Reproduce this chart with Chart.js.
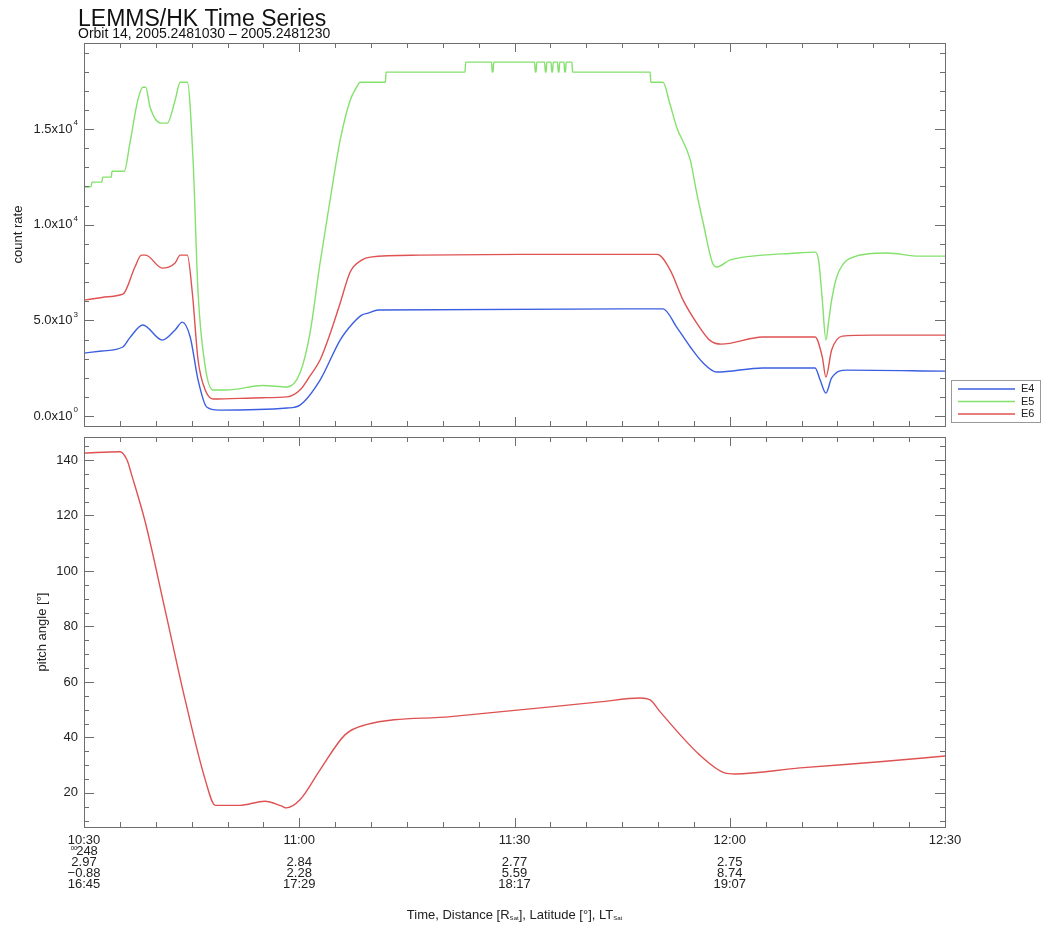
<!DOCTYPE html>
<html>
<head>
<meta charset="utf-8">
<title>LEMMS/HK Time Series</title>
<script src="https://cdn.jsdelivr.net/npm/chart.js@4.4.0/dist/chart.umd.min.js"></script>
<style>
  body { margin: 0; background: #fff; }
  #wrap { position: relative; width: 1042px; height: 927px; }
  canvas { position: absolute; left: 0; }
  #countChart { top: 0; }
  #pitchChart { top: 432px; }
</style>
</head>
<body>
<div id="wrap">
  <canvas id="countChart" width="1042" height="432"></canvas>
  <canvas id="pitchChart" width="1042" height="495"></canvas>
</div>
<script>
// minutes after 10:30
const e5Minutes = [0, 1.0, 1.1, 2.5, 2.6, 3.8, 3.9, 5.6, 6.4, 7.5, 8.2, 8.6, 9.2, 10.7, 11.6, 12.7, 13.4, 14.4, 15.2, 15.9,
  16.9, 18.0, 20.3, 24.9, 28.3, 30.1, 31.5, 32.9, 34.3, 35.7, 37.1, 38.0, 38.5, 42.0, 42.1, 53.1, 53.2,
  56.8, 56.9, 57.0, 57.1, 62.8, 62.9, 63.0, 63.1, 64.2, 64.3, 64.4, 64.5, 65.1, 65.2, 65.3, 65.4,
  66.0, 66.1, 66.2, 66.3, 66.9, 67.0, 67.1, 67.2, 68.0, 68.1, 78.9, 79.0, 80.7, 81.6, 82.6, 84.5, 85.4, 86.3,
  87.6, 88.2, 90.0, 94.6, 98.4, 101.9, 102.4, 102.9, 103.4, 103.8, 104.2, 104.9, 106.8, 111.9, 116.5, 120];
const e5Counts = [11970, 12000, 12230, 12230, 12490, 12490, 12800, 12800, 14270, 16510, 17190, 17190, 16150, 15310, 15310, 16510, 17450, 17450, 13380, 6430,
  2560, 1360, 1370, 1600, 1520, 2250, 4340, 8000, 11290, 14420, 16510, 17190, 17450, 17450, 17980, 17980, 18500,
  18500, 17980, 17980, 18500, 18500, 17980, 17980, 18500, 18500, 17980, 17980, 18500, 18500, 17980, 17980, 18500,
  18500, 17980, 17980, 18500, 18500, 17980, 17980, 18500, 18500, 17980, 17980, 17450, 17450, 16400, 15100, 13380, 11650, 10090,
  8000, 7790, 8150, 8410, 8500, 8570, 8100, 6060, 3970, 5000, 6060, 7260, 8260, 8520, 8360, 8360];

const e6Minutes = [0, 2.5, 5.0, 5.6, 7.1, 8.0, 8.6, 10.9, 12.7, 13.4, 14.4, 15.1, 15.9, 16.9, 18.0, 24.9, 28.3, 30.1, 31.5, 32.9,
  34.3, 35.7, 37.1, 38.7, 39.9, 46.8, 60.8, 79.9, 81.7, 83.5, 85.4, 87.2, 88.8, 94.6, 101.9, 102.9, 103.4, 104.2, 105.7, 110, 120];
const e6Counts = [6060, 6200, 6330, 6430, 7790, 8410, 8410, 7730, 8000, 8410, 8410, 6430, 2930, 1360, 890, 960, 1000, 1360, 2100, 2930,
  4300, 5900, 7530, 8150, 8310, 8410, 8450, 8450, 7630, 6060, 4860, 3970, 3760, 4130, 4130, 3080, 2040, 3450, 4180, 4230, 4230];

const e4Minutes = [0, 2.5, 5.4, 6.4, 8.2, 10.9, 12.7, 13.7, 14.8, 15.9, 17.1, 18.8, 28.3, 30.1, 32.9, 35.7, 37.5, 38.7, 39.6, 41,
  79.5, 80.7, 82.6, 84.5, 86.3, 88.2, 94.6, 101.9, 102.6, 103.4, 104.2, 106.3, 120];
const e4Counts = [3290, 3400, 3610, 4100, 4760, 3970, 4500, 4910, 4130, 1880, 470, 310, 420, 575, 1880, 3970, 4860, 5280, 5380, 5540,
  5600, 5600, 4650, 3610, 2770, 2300, 2510, 2510, 1880, 1200, 1990, 2400, 2350];

const pitchMinutes = [0, 5.0, 6.0, 6.6, 8.5, 11.3, 14.1, 16.9, 18.3, 21.7, 25.2, 27.5, 28.2, 30.1, 32.9, 36.4, 39.2, 51.1, 62.2, 71.9,
  77.5, 78.9, 80.3, 85.8, 89.3, 90.7, 99.8, 110.9, 120];
const pitchAngle = [142.5, 143, 140, 135, 118, 86, 53.5, 24.7, 15.5, 15.5, 17, 15.3, 14.6, 17.5, 28.3, 41, 44.5, 47.5, 50.3, 52.8,
  54.2, 53.5, 49.2, 33.7, 27.2, 26.8, 29, 31.2, 33.3];

// tick labels
const countTicks = [0, 5000, 10000, 15000];
const countTickText = ['0.0x10', '5.0x10', '1.0x10', '1.5x10'];
const countTickPower = ['0', '3', '4', '4'];
const pitchTicks = [20, 40, 60, 80, 100, 120, 140];
const timeTicks = [0, 30, 60, 90, 120];
const timeLabels = ['10:30', '11:00', '11:30', '12:00', '12:30'];
const dayLabels = ['248', '', '', '', ''];
const distanceLabels = ['2.97', '2.84', '2.77', '2.75', ''];
const latitudeLabels = ['\u22120.88', '2.28', '5.59', '8.74', ''];
const localTimeLabels = ['16:45', '17:29', '18:17', '19:07', ''];

const fontFamily = '"Liberation Sans", Arial, Helvetica, sans-serif';
const frameColor = '#6e6e6e';
const textColor = '#222';

function toPoints(xs, ys) {
  return xs.map((x, i) => ({ x: x, y: ys[i] }));
}

function drawLine(ctx, x1, y1, x2, y2) {
  ctx.beginPath();
  ctx.moveTo(x1, y1);
  ctx.lineTo(x2, y2);
  ctx.stroke();
}

// text with a raised small part, right aligned at x
function drawSup(ctx, base, sup, right, y) {
  ctx.font = '13px ' + fontFamily;
  const baseW = ctx.measureText(base).width;
  ctx.font = '8px ' + fontFamily;
  const supW = sup ? ctx.measureText(sup).width + 1 : 0;
  ctx.textAlign = 'left';
  ctx.textBaseline = 'middle';
  ctx.font = '13px ' + fontFamily;
  ctx.fillText(base, right - supW - baseW, y);
  if (sup) {
    ctx.font = '8px ' + fontFamily;
    ctx.fillText(sup, right - supW + 1, y - 6);
  }
}

// IDL style box with inward ticks on all four sides
const boxAxes = {
  id: 'boxAxes',
  afterDraw(chart, args, opts) {
    const ctx = chart.ctx;
    const a = chart.chartArea;
    const x = chart.scales.x;
    const y = chart.scales.y;
    ctx.save();
    ctx.strokeStyle = frameColor;
    ctx.lineWidth = 1;
    ctx.strokeRect(a.left + 0.5, a.top + 0.5, a.right - a.left, a.bottom - a.top);
    for (let m = 0; m <= 120; m += 5) {
      const px = Math.round(x.getPixelForValue(m)) + 0.5;
      const len = m % 30 === 0 ? 9 : 5;
      drawLine(ctx, px, a.bottom, px, a.bottom - len);
      drawLine(ctx, px, a.top, px, a.top + len);
    }
    for (let v = opts.minorFrom; v <= y.max; v += opts.minorStep) {
      if (v < y.min) continue;
      const py = Math.round(y.getPixelForValue(v)) + 0.5;
      const len = opts.major.includes(v) ? 10 : 5;
      drawLine(ctx, a.left, py, a.left + len, py);
      drawLine(ctx, a.right, py, a.right - len, py);
    }
    ctx.fillStyle = textColor;
    opts.major.forEach((v, i) => {
      drawSup(ctx, opts.labels[i], opts.powers[i], a.left - 6, y.getPixelForValue(v));
    });
    // y title
    ctx.save();
    ctx.translate(opts.titleX, (a.top + a.bottom) / 2);
    ctx.rotate(-Math.PI / 2);
    ctx.font = '13px ' + fontFamily;
    ctx.textAlign = 'center';
    ctx.textBaseline = 'middle';
    ctx.fillText(opts.title, 0, 0);
    ctx.restore();
    ctx.restore();
  }
};

const headerAndLegend = {
  id: 'headerAndLegend',
  afterDraw(chart) {
    const ctx = chart.ctx;
    ctx.save();
    ctx.fillStyle = '#111';
    ctx.textAlign = 'left';
    ctx.textBaseline = 'alphabetic';
    ctx.font = '23px ' + fontFamily;
    ctx.fillText('LEMMS/HK Time Series', 78, 26);
    ctx.font = '14px ' + fontFamily;
    ctx.fillText('Orbit 14, 2005.2481030 \u2013 2005.2481230', 78, 38);

    // legend
    ctx.strokeStyle = '#999';
    ctx.lineWidth = 1;
    ctx.strokeRect(951.5, 380.5, 89, 42);
    ctx.font = '11px ' + fontFamily;
    ctx.textBaseline = 'middle';
    chart.data.datasets.forEach((ds, i) => {
      const rowY = 389 + i * 12.5;
      ctx.strokeStyle = ds.borderColor;
      ctx.lineWidth = 1.5;
      drawLine(ctx, 958, rowY, 1015, rowY);
      ctx.fillStyle = textColor;
      ctx.fillText(ds.label, 1021, rowY);
    });
    ctx.restore();
  }
};

const timeAxisText = {
  id: 'timeAxisText',
  afterDraw(chart) {
    const ctx = chart.ctx;
    const x = chart.scales.x;
    const a = chart.chartArea;
    ctx.save();
    ctx.fillStyle = textColor;
    ctx.textAlign = 'center';
    ctx.textBaseline = 'middle';
    ctx.font = '13px ' + fontFamily;
    const rows = [timeLabels, dayLabels, distanceLabels, latitudeLabels, localTimeLabels];
    timeTicks.forEach((m, i) => {
      const px = x.getPixelForValue(m);
      rows.forEach((row, r) => {
        if (row[i]) ctx.fillText(row[i], px + (r === 1 ? 3 : 0), a.bottom + 13 + r * 11);
      });
      if (dayLabels[i]) {
        ctx.font = '6px ' + fontFamily;
        ctx.fillText('00', px - 10, a.bottom + 21);
        ctx.font = '13px ' + fontFamily;
      }
    });

    // axis title with subscripts
    const parts = [
      ['Time, Distance [R', 13, 0], ['Sat', 6, 3], ['], Latitude [\u00b0], LT', 13, 0], ['Sat', 6, 3]
    ];
    let total = 0;
    parts.forEach(p => {
      ctx.font = p[1] + 'px ' + fontFamily;
      total += ctx.measureText(p[0]).width;
    });
    let cx = (a.left + a.right) / 2 - total / 2;
    ctx.textAlign = 'left';
    parts.forEach(p => {
      ctx.font = p[1] + 'px ' + fontFamily;
      ctx.fillText(p[0], cx, a.bottom + 88 + p[2]);
      cx += ctx.measureText(p[0]).width;
    });
    ctx.restore();
  }
};

function lineSet(label, xs, ys, color) {
  return {
    label: label,
    data: toPoints(xs, ys),
    borderColor: color,
    borderWidth: 1.4,
    pointRadius: 0,
    cubicInterpolationMode: 'monotone',
    fill: false
  };
}

function hiddenScales(yMin, yMax) {
  return {
    x: { type: 'linear', min: 0, max: 120, display: false },
    y: { type: 'linear', min: yMin, max: yMax, display: false }
  };
}

new Chart(document.querySelector('#countChart'), {
  type: 'line',
  data: {
    datasets: [
      lineSet('E4', e4Minutes, e4Counts, '#3b5fe0'),
      lineSet('E5', e5Minutes, e5Counts, '#84e16c'),
      lineSet('E6', e6Minutes, e6Counts, '#df5252')
    ]
  },
  options: {
    responsive: false,
    animation: false,
    devicePixelRatio: 1,
    layout: { padding: { left: 84, right: 97, top: 43, bottom: 6 } },
    plugins: {
      legend: { display: false },
      tooltip: { enabled: false },
      boxAxes: {
        major: countTicks, labels: countTickText, powers: countTickPower,
        minorFrom: 0, minorStep: 1000, title: 'count rate', titleX: 18
      }
    },
    scales: hiddenScales(-520, 19500)
  },
  plugins: [boxAxes, headerAndLegend]
});

new Chart(document.querySelector('#pitchChart'), {
  type: 'line',
  data: {
    datasets: [lineSet('pitch angle', pitchMinutes, pitchAngle, '#df5252')]
  },
  options: {
    responsive: false,
    animation: false,
    devicePixelRatio: 1,
    layout: { padding: { left: 84, right: 97, top: 5, bottom: 100 } },
    plugins: {
      legend: { display: false },
      tooltip: { enabled: false },
      boxAxes: {
        major: pitchTicks, labels: pitchTicks.map(String), powers: pitchTicks.map(() => ''),
        minorFrom: 10, minorStep: 5, title: 'pitch angle [\u00b0]', titleX: 42
      }
    },
    scales: hiddenScales(7.7, 148.3)
  },
  plugins: [boxAxes, timeAxisText]
});
</script>
</body>
</html>
